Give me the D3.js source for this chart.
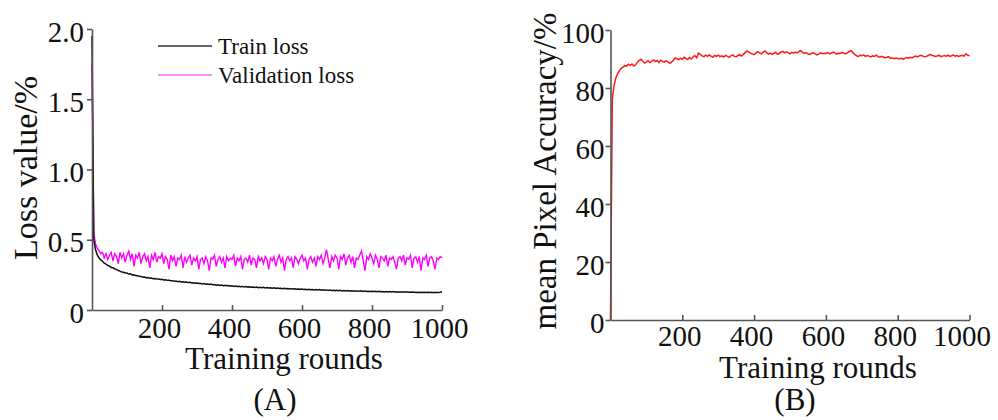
<!DOCTYPE html>
<html>
<head>
<meta charset="utf-8">
<script src="https://cdn.jsdelivr.net/npm/d3@7"></script>
<style>
  body { margin: 0; background: #fff; }
  svg text { font-family: "Liberation Serif", "Times New Roman", serif; fill: #111; }
  .axis path, .axis line { stroke: #555; stroke-width: 1.6; }
</style>
</head>
<body>
<svg width="998" height="420"></svg>
<script>
// training rounds sampled every 5 rounds (0..1000)
var rounds = d3.range(0, 1001, 5);

var trainLoss = [
  1.95, 0.50, 0.43, 0.392, 0.372, 0.356, 0.347, 0.333, 0.327, 0.318, 0.312, 0.303, 0.301, 0.292, 0.289, 0.281, 0.277, 0.270, 0.269, 0.263,
  0.263, 0.256, 0.258, 0.250, 0.251, 0.245, 0.244, 0.240, 0.239, 0.234, 0.235, 0.230, 0.231, 0.226, 0.228, 0.223, 0.224, 0.220, 0.221, 0.217,
  0.218, 0.214, 0.215, 0.211, 0.212, 0.208, 0.209, 0.205, 0.207, 0.202, 0.204, 0.200, 0.201, 0.197, 0.199, 0.195, 0.197, 0.192, 0.194, 0.190,
  0.192, 0.188, 0.190, 0.186, 0.188, 0.183, 0.185, 0.181, 0.184, 0.179, 0.181, 0.177, 0.180, 0.175, 0.178, 0.173, 0.176, 0.172, 0.174, 0.170,
  0.172, 0.168, 0.171, 0.167, 0.169, 0.166, 0.168, 0.164, 0.167, 0.163, 0.166, 0.162, 0.164, 0.161, 0.163, 0.159, 0.162, 0.158, 0.161, 0.157,
  0.160, 0.156, 0.159, 0.155, 0.158, 0.154, 0.156, 0.153, 0.155, 0.152, 0.154, 0.151, 0.153, 0.150, 0.152, 0.149, 0.151, 0.148, 0.150, 0.147,
  0.149, 0.146, 0.148, 0.145, 0.147, 0.144, 0.146, 0.143, 0.146, 0.142, 0.145, 0.141, 0.144, 0.140, 0.143, 0.139, 0.142, 0.139, 0.141, 0.138,
  0.140, 0.137, 0.140, 0.136, 0.139, 0.136, 0.138, 0.135, 0.137, 0.134, 0.137, 0.134, 0.136, 0.133, 0.136, 0.132, 0.135, 0.132, 0.134, 0.131,
  0.134, 0.131, 0.133, 0.130, 0.133, 0.130, 0.132, 0.129, 0.132, 0.129, 0.131, 0.128, 0.131, 0.128, 0.130, 0.127, 0.130, 0.127, 0.129, 0.126,
  0.129, 0.126, 0.128, 0.126, 0.128, 0.125, 0.127, 0.125, 0.127, 0.124, 0.127, 0.124, 0.126, 0.124, 0.126, 0.123, 0.126, 0.124, 0.125, 0.127,
  0.130
];

var validationLoss = [
  1.75, 0.55, 0.47, 0.44, 0.42, 0.40, 0.41, 0.37, 0.40, 0.36, 0.39, 0.41, 0.35, 0.40, 0.38, 0.33, 0.41, 0.37, 0.40, 0.34,
  0.39, 0.42, 0.36, 0.40, 0.31, 0.39, 0.37, 0.41, 0.33, 0.38, 0.40, 0.35, 0.38, 0.30, 0.39, 0.36, 0.41, 0.34, 0.38, 0.37,
  0.40, 0.33, 0.38, 0.36, 0.29, 0.39, 0.35, 0.38, 0.31, 0.37, 0.36, 0.39, 0.30, 0.38, 0.34, 0.37, 0.39, 0.32, 0.37, 0.35,
  0.38, 0.29, 0.36, 0.37, 0.33, 0.38, 0.35, 0.28, 0.37, 0.36, 0.39, 0.31, 0.36, 0.38, 0.34, 0.37, 0.30, 0.38, 0.35, 0.37,
  0.36, 0.39, 0.31, 0.37, 0.35, 0.38, 0.29, 0.36, 0.37, 0.34, 0.39, 0.32, 0.37, 0.36, 0.30, 0.38, 0.35, 0.37, 0.33, 0.38,
  0.36, 0.29, 0.37, 0.35, 0.38, 0.31, 0.36, 0.39, 0.34, 0.37, 0.28, 0.36, 0.38, 0.35, 0.37, 0.30, 0.38, 0.36, 0.33, 0.37,
  0.39, 0.35, 0.37, 0.29, 0.36, 0.38, 0.34, 0.37, 0.31, 0.38, 0.36, 0.39, 0.33, 0.37, 0.43, 0.36, 0.30, 0.38, 0.35, 0.39,
  0.37, 0.29, 0.38, 0.36, 0.40, 0.32, 0.37, 0.39, 0.34, 0.38, 0.30, 0.37, 0.36, 0.39, 0.42, 0.35, 0.28, 0.38, 0.36, 0.40,
  0.37, 0.33, 0.39, 0.36, 0.30, 0.38, 0.37, 0.35, 0.39, 0.31, 0.37, 0.36, 0.38, 0.34, 0.29, 0.37, 0.38, 0.35, 0.39, 0.32,
  0.37, 0.36, 0.39, 0.30, 0.37, 0.38, 0.34, 0.38, 0.28, 0.37, 0.36, 0.39, 0.31, 0.37, 0.38, 0.35, 0.29, 0.37, 0.36, 0.38,
  0.37
];

var pixelAccuracy = [
  0, 76, 81, 83.5, 85, 86, 86.8, 87.2, 87.7, 87.5, 88.2, 87.8, 88.3, 87.6, 88.0, 88.9, 89.5, 89.9, 89.2, 88.6,
  88.9, 89.4, 88.7, 89.3, 89.7, 89.1, 89.5, 88.8, 89.6, 89.2, 88.9, 89.4, 89.0, 88.5, 88.9, 89.6, 90.4, 90.1, 89.8, 90.3,
  89.9, 90.6, 90.2, 89.8, 90.5, 90.0, 90.7, 91.2, 90.4, 92.0, 91.6, 91.1, 90.8, 91.3, 90.9, 91.4, 91.0, 90.6, 91.2, 90.9,
  91.3, 90.8, 91.1, 90.7, 91.2, 91.0, 90.6, 91.1, 91.4, 90.9, 90.8, 91.2, 91.5, 91.0, 91.6, 92.2, 92.8, 92.4, 92.0, 91.7,
  91.5, 92.0, 92.5, 92.1, 91.8, 92.3, 92.8, 92.2, 91.7, 92.0, 91.6, 91.9, 92.3, 91.6, 91.9, 92.4, 92.6, 92.1, 92.5, 92.2,
  91.8, 92.3, 92.0, 92.4, 92.1, 92.6, 92.9, 92.3, 91.9, 92.2, 91.8, 91.5, 91.9, 92.2, 91.8, 91.4, 91.7, 92.1, 91.8, 92.0,
  91.9, 92.2, 91.8, 92.0, 92.4, 92.1, 91.7, 92.0, 91.9, 92.3, 92.0, 91.8, 92.1, 92.6, 92.9, 92.2, 91.6, 91.2, 90.8, 91.3,
  91.1, 91.4, 90.9, 91.2, 91.0, 90.7, 91.1, 90.9, 91.3, 90.8, 90.6, 90.9, 90.7, 90.4, 90.6, 90.8, 90.2, 90.4, 90.1, 90.3,
  90.2, 90.0, 90.3, 89.9, 90.2, 90.5, 90.3, 90.6, 90.4, 90.8, 91.0, 90.7, 91.1, 91.3, 91.0, 90.8, 90.9, 91.2, 91.6, 91.3,
  91.1, 90.9, 91.0, 91.3, 90.8, 91.0, 91.2, 91.0, 91.3, 90.9, 91.1, 91.4, 91.0, 91.2, 90.9, 91.1, 91.3, 91.0, 91.8, 91.3,
  91.1
];

var roundTicks = [200, 400, 600, 800, 1000];
var lossTicks = [0, 0.5, 1.0, 1.5, 2.0];
var lossTickLabels = ["0", "0.5", "1.0", "1.5", "2.0"];
var accTicks = [0, 20, 40, 60, 80, 100];

var svg = d3.select("svg");

// ---------- panel A ----------
var xA = d3.scaleLinear().domain([0, 1000]).range([92, 442]),
    yA = d3.scaleLinear().domain([0, 2]).range([310, 29]);

var lineVal = d3.line()
    .x(function (d, i) { return xA(rounds[i]); })
    .y(function (d) { return yA(d); });

svg.append("path")
    .datum(validationLoss)
    .attr("fill", "none")
    .attr("stroke", "#ff00ff")
    .attr("stroke-width", 1.4)
    .attr("d", lineVal);

svg.append("path")
    .datum(trainLoss)
    .attr("fill", "none")
    .attr("stroke", "#111")
    .attr("stroke-width", 1.5)
    .attr("d", lineVal);

var gxA = svg.append("g")
    .attr("class", "axis")
    .attr("transform", "translate(0,310)")
    .call(d3.axisBottom(xA).tickValues(roundTicks).tickSize(-5).tickSizeOuter(0).tickFormat(d3.format("d")));
gxA.selectAll("text").attr("x", -3).attr("y", 28).attr("dy", 0).attr("font-size", 29);

var gyA = svg.append("g")
    .attr("class", "axis")
    .attr("transform", "translate(92,0)")
    .call(d3.axisLeft(yA).tickValues(lossTicks).tickSize(5).tickSizeOuter(0)
        .tickFormat(function (d, i) { return lossTickLabels[i]; }));
gyA.selectAll("text").attr("x", -8).attr("dy", "0.42em").attr("font-size", 29);

svg.append("text")
    .attr("x", 284).attr("y", 369)
    .attr("text-anchor", "middle")
    .attr("font-size", 31)
    .text("Training rounds");

svg.append("text")
    .attr("transform", "translate(37,168) rotate(-90)")
    .attr("text-anchor", "middle")
    .attr("font-size", 34)
    .text("Loss value/%");

svg.append("text")
    .attr("x", 275).attr("y", 410)
    .attr("text-anchor", "middle")
    .attr("font-size", 31)
    .text("(A)");

// legend
var legendItems = [
    { name: "Train loss", color: "#333" },
    { name: "Validation loss", color: "#ff66ff" }
];
var leg = svg.append("g").attr("transform", "translate(158,46)");
leg.selectAll("line")
    .data(legendItems)
    .enter().append("line")
    .attr("x1", 0).attr("x2", 54)
    .attr("y1", function (d, i) { return i * 29; })
    .attr("y2", function (d, i) { return i * 29; })
    .attr("stroke", function (d) { return d.color; })
    .attr("stroke-width", 1.6);
leg.selectAll("text")
    .data(legendItems)
    .enter().append("text")
    .attr("x", 60)
    .attr("y", function (d, i) { return i * 29 + 8; })
    .attr("font-size", 23)
    .text(function (d) { return d.name; });

// ---------- panel B ----------
var xB = d3.scaleLinear().domain([0, 1000]).range([610.5, 969.5]),
    yB = d3.scaleLinear().domain([0, 100]).range([320, 30]);

var lineAcc = d3.line()
    .x(function (d, i) { return xB(rounds[i]); })
    .y(function (d) { return yB(d); });

svg.append("path")
    .datum(pixelAccuracy)
    .attr("fill", "none")
    .attr("stroke", "#ff1a1a")
    .attr("stroke-width", 1.5)
    .attr("d", lineAcc);

var gxB = svg.append("g")
    .attr("class", "axis")
    .attr("transform", "translate(0,320)")
    .call(d3.axisBottom(xB).tickValues(roundTicks).tickSize(-5).tickSizeOuter(0).tickFormat(d3.format("d")));
gxB.selectAll("text").attr("x", function (d) { return d === 1000 ? -8 : -3; })
    .attr("y", 26).attr("dy", 0).attr("font-size", 29);

var gyB = svg.append("g")
    .attr("class", "axis")
    .attr("transform", "translate(610.5,0)")
    .call(d3.axisLeft(yB).tickValues(accTicks).tickSize(5).tickSizeOuter(0));
gyB.selectAll("text").attr("x", -6).attr("dy", "0.42em").attr("font-size", 29);

svg.append("text")
    .attr("x", 818).attr("y", 378)
    .attr("text-anchor", "middle")
    .attr("font-size", 31)
    .text("Training rounds");

svg.append("text")
    .attr("transform", "translate(556,171) rotate(-90)")
    .attr("text-anchor", "middle")
    .attr("font-size", 33)
    .text("mean Pixel Accuracy/%");

svg.append("text")
    .attr("x", 795).attr("y", 410)
    .attr("text-anchor", "middle")
    .attr("font-size", 31)
    .text("(B)");
</script>
</body>
</html>
